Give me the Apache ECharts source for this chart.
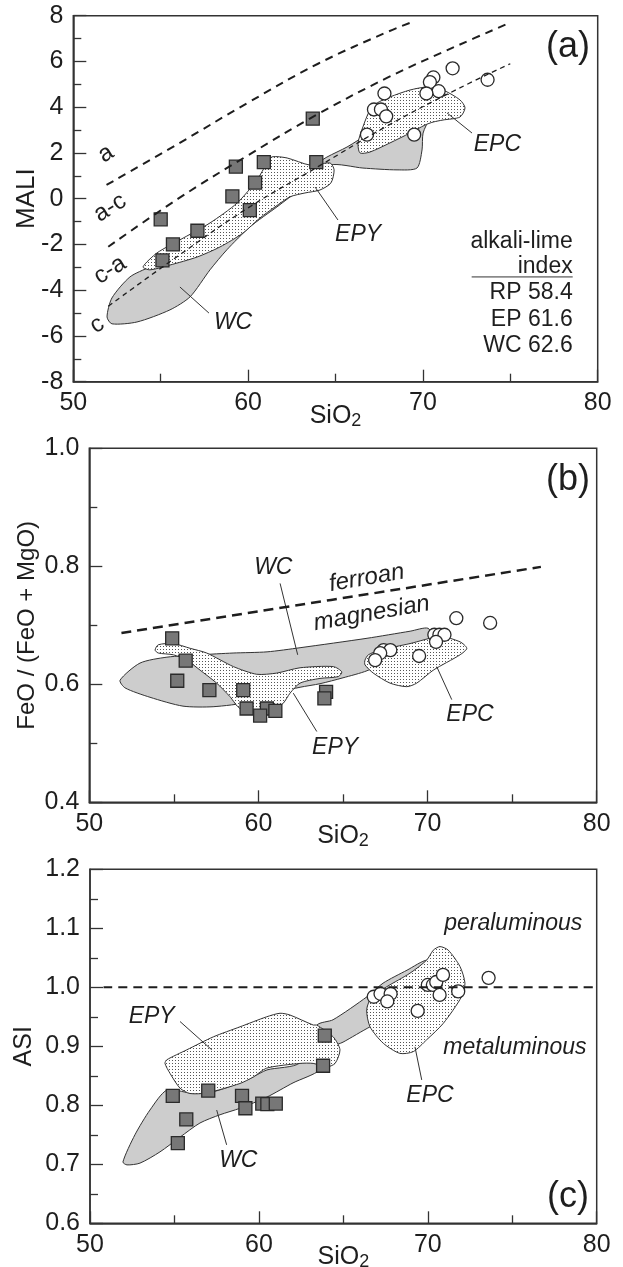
<!DOCTYPE html>
<html>
<head>
<meta charset="utf-8">
<script src="https://cdn.jsdelivr.net/npm/echarts@6/dist/echarts.min.js"></script>
<style>
  html, body { margin: 0; padding: 0; background: #fff; }
  #main { width: 623px; height: 1267px; }
</style>
</head>
<body>
<div id="main"></div>
<script>
// tick labels
var xLabels = [50, 60, 70, 80];
var yLabelsA = [-8, -6, -4, -2, 0, 2, 4, 6, 8];
var yLabelsB = [0.4, 0.6, 0.8, 1.0];
var yLabelsC = [0.6, 0.7, 0.8, 0.9, 1.0, 1.1, 1.2];

// (a) MALI vs SiO2
var sqA_x = [55.0, 55.1, 55.7, 57.1, 59.1, 59.3, 60.1, 60.4, 60.9, 63.7, 63.9];
var sqA_y = [-0.9, -2.7, -2.0, -1.4, 0.1, 1.4, -0.5, 0.7, 1.6, 3.5, 1.6];
var ciA_x = [71.7, 73.7, 70.6, 70.4, 70.9, 70.2, 67.8, 67.2, 67.6, 67.9, 66.8, 69.5];
var ciA_y = [5.7, 5.2, 5.3, 5.1, 4.7, 4.6, 4.6, 3.9, 3.9, 3.6, 2.8, 2.8];
var bound_a = [[51.9, 0.6], [56, 2.4], [60, 4.2], [64, 5.9], [68, 7.3], [69.3, 7.7]];
var bound_ac = [[52, -2.1], [56, 0.0], [60, 1.9], [64, 3.7], [68, 5.3], [72, 6.7], [75, 7.7]];
var bound_ca = [[52, -4.7], [56, -2.5], [60, -0.4], [64, 1.4], [68, 3.2], [72, 4.8], [75, 5.9]];
var wcA = [[51.93,-5.17],[52.21,-5.47],[53.64,-5.39],[55.53,-4.86],[56.68,-4.29],[57.82,-3.11],[58.79,-2.23],[60.11,-1.23],[61.65,-0.36],[62.97,0.38],[63.94,0.69],[64.69,1.47],[66.57,1.34],[68.52,1.26],[69.66,1.34],[69.95,2.13],[70.01,2.87],[70.41,3.57],[70.75,4.32],[70.41,4.32],[68.52,3.44],[66.97,2.87],[65.66,2.26],[64.51,1.82],[63.14,1.17],[61.25,0.38],[59.54,-0.49],[57.82,-1.58],[55.82,-2.46],[54.39,-2.98],[53.24,-3.42],[52.21,-4.34]];
var epyA = [[53.99,-2.98],[54.79,-2.37],[56.1,-1.8],[57.82,-1.06],[59.37,-0.19],[60.51,0.82],[61.08,1.56],[61.37,1.83],[62.23,1.78],[63.54,1.47],[64.69,1.56],[64.92,1.26],[64.74,0.69],[64.11,0.38],[63.25,0.25],[62.39,0.08],[61.54,-0.36],[60.68,-0.84],[59.71,-1.5],[58.39,-2.11],[57.08,-2.55],[55.53,-2.9],[54.39,-3.11]];
var epcA = [[66.4,2.0],[66.29,2.44],[66.57,3.14],[66.97,3.88],[67.37,4.18],[68.12,4.45],[69.26,4.75],[70.23,4.88],[71.15,4.75],[72.12,4.32],[72.41,3.97],[72.12,3.57],[71.15,3.44],[70.58,3.35],[70.12,3.22],[69.26,2.87],[68.12,2.44],[66.97,2.04]];
var alkaliGroup = ['RP', 'EP', 'WC'];
var alkaliIndex = [58.4, 61.6, 62.6];

// (b) FeO/(FeO+MgO) vs SiO2
var sqB_x = [54.9, 55.7, 55.2, 57.1, 59.1, 59.3, 60.5, 61.0, 60.1, 64.0, 63.9];
var sqB_y = [0.678, 0.640, 0.606, 0.590, 0.590, 0.559, 0.559, 0.555, 0.547, 0.587, 0.576];
var ciB_x = [71.7, 73.7, 70.4, 70.7, 71.0, 70.5, 67.4, 67.8, 67.2, 66.9, 69.5];
var ciB_y = [0.712, 0.704, 0.684, 0.684, 0.684, 0.672, 0.658, 0.658, 0.653, 0.641, 0.648];
var bound_fe = [[51.9, 0.687], [76.7, 0.799]];
var wcB = [[51.82,0.607],[53.0,0.636],[54.59,0.646],[56.55,0.65],[58.5,0.653],[60.51,0.655],[62.46,0.662],[66.42,0.678],[68.97,0.69],[70.03,0.695],[70.27,0.675],[68.37,0.65],[66.42,0.623],[65.0,0.611],[63.64,0.601],[62.46,0.595],[61.28,0.587],[59.5,0.57],[57.32,0.562],[55.54,0.563],[53.59,0.578],[52.11,0.594]];
var epyB = [[53.89,0.658],[54.08,0.667],[54.97,0.669],[55.96,0.661],[56.94,0.653],[58.52,0.63],[59.9,0.617],[61.08,0.619],[62.46,0.628],[64.43,0.63],[64.93,0.621],[64.72,0.613],[63.64,0.61],[62.46,0.602],[61.87,0.585],[61.47,0.568],[61.08,0.562],[59.9,0.556],[58.91,0.559],[58.32,0.579],[57.53,0.602],[56.55,0.624],[55.76,0.641],[54.97,0.65],[54.08,0.653]];
var epcB = [[66.3,0.641],[66.5,0.65],[67.19,0.658],[68.96,0.669],[70.74,0.681],[71.92,0.672],[72.32,0.661],[71.92,0.65],[70.34,0.624],[69.36,0.602],[68.77,0.596],[67.78,0.602],[66.79,0.619],[66.3,0.633]];

// (c) ASI vs SiO2
var sqC_x = [54.9, 55.7, 55.2, 57.0, 59.0, 59.2, 60.2, 60.5, 61.0, 63.9, 63.8];
var sqC_y = [0.816, 0.776, 0.736, 0.825, 0.816, 0.795, 0.803, 0.802, 0.803, 0.918, 0.867];
var ciC_x = [66.8, 67.2, 67.8, 67.6, 69.4, 70.0, 70.3, 70.5, 70.9, 70.7, 71.8, 73.6];
var ciC_y = [0.984, 0.989, 0.989, 0.976, 0.960, 1.004, 1.004, 1.009, 1.021, 0.987, 0.993, 1.016];
var bound_asi = [[50.8, 1.0], [80, 1.0]];
var wcC = [[51.95,0.704],[52.19,0.699],[52.96,0.702],[54.14,0.721],[55.33,0.746],[56.51,0.77],[57.7,0.784],[58.88,0.795],[60.48,0.814],[62.02,0.838],[63.62,0.86],[64.39,0.899],[64.98,0.907],[66.58,0.933],[68.06,0.953],[69.54,0.978],[70.13,1.029],[69.95,1.046],[68.77,1.029],[67.35,1.007],[66.4,0.984],[64.39,0.945],[63.44,0.936],[62.43,0.872],[60.48,0.86],[59.65,0.848],[58.88,0.838],[57.28,0.823],[55.92,0.821],[54.56,0.826],[53.55,0.792],[52.66,0.75]];
var epyC = [[54.44,0.871],[54.54,0.877],[55.73,0.894],[57.3,0.916],[58.88,0.933],[60.46,0.95],[61.25,0.956],[61.84,0.953],[63.22,0.936],[63.42,0.936],[64.4,0.916],[64.8,0.894],[64.51,0.871],[64.01,0.865],[63.22,0.871],[62.43,0.871],[60.46,0.863],[59.67,0.848],[58.88,0.837],[56.91,0.821],[55.92,0.82],[55.33,0.829],[54.74,0.854]];
var epcC = [[70.72,1.069],[71.21,1.063],[71.91,1.035],[72.2,1.007],[72.0,0.984],[70.92,0.939],[69.93,0.911],[69.14,0.891],[68.35,0.888],[67.37,0.905],[66.58,0.933],[66.38,0.962],[66.68,0.984],[67.57,1.001],[68.95,1.024],[69.93,1.046],[70.33,1.063]];

var FONT = 'Liberation Sans, Arial, sans-serif';
var INK = '#1e1e1e';

// dotted fill
var dotCanvas = document.createElement('canvas');
dotCanvas.width = 3; dotCanvas.height = 3;
var dctx = dotCanvas.getContext('2d');
dctx.fillStyle = '#fff'; dctx.fillRect(0, 0, 3, 3);
dctx.fillStyle = '#555'; dctx.fillRect(1, 1, 1, 1);
var dotFill = { image: dotCanvas, repeat: 'repeat' };
var grayFill = '#cdcdcd';

function pairs(xs, ys) {
  return xs.map(function (x, i) { return [x, ys[i]]; });
}

function field(g, pts, fill) {
  return {
    type: 'custom', xAxisIndex: g, yAxisIndex: g, silent: true,
    data: [pts[0]],
    renderItem: function (params, api) {
      return {
        type: 'polygon',
        shape: { points: pts.map(function (p) { return api.coord(p); }), smooth: 0.25 },
        style: { fill: fill, stroke: '#333', lineWidth: 1 }
      };
    }
  };
}

function segs(g, list) {
  return {
    type: 'custom', xAxisIndex: g, yAxisIndex: g, silent: true,
    data: list.map(function (s) { return s[0]; }),
    renderItem: function (params, api) {
      var s = list[params.dataIndex];
      var a = api.coord(s[0]), b = api.coord(s[1]);
      return { type: 'line', shape: { x1: a[0], y1: a[1], x2: b[0], y2: b[1] },
        style: { stroke: '#333', lineWidth: 1 } };
    }
  };
}

// notes: [text, x, y, rotationDeg, italic, fontSize, align]
function notes(g, list) {
  return {
    type: 'custom', xAxisIndex: g, yAxisIndex: g, silent: true,
    data: list.map(function (n) { return [n[1], n[2]]; }),
    renderItem: function (params, api) {
      var n = list[params.dataIndex];
      var p = api.coord([n[1], n[2]]);
      return {
        type: 'text', x: p[0], y: p[1], rotation: (n[3] || 0) * Math.PI / 180,
        style: {
          text: n[0], fill: INK, fontFamily: FONT,
          fontSize: n[5] || 23, fontStyle: n[4] ? 'italic' : 'normal',
          align: n[6] || 'center', verticalAlign: 'middle'
        }
      };
    }
  };
}

function dashed(g, pts, dash, w) {
  return {
    type: 'line', xAxisIndex: g, yAxisIndex: g, data: pts, symbol: 'none',
    smooth: 0.4, silent: true,
    lineStyle: { color: INK, width: w, type: dash }
  };
}

function dots(g, pts, shape, color) {
  return {
    type: 'scatter', xAxisIndex: g, yAxisIndex: g, data: pts,
    symbol: shape, symbolSize: 13,
    itemStyle: { color: color, borderColor: '#2a2a2a', borderWidth: 1.3, opacity: 1 }
  };
}

function labelIn(list) {
  return function (v) {
    for (var i = 0; i < list.length; i++) {
      if (Math.abs(list[i] - v) < 1e-6) return list[i] < 1.5 && list[i] > 0 ? list[i].toFixed(1) : String(list[i]);
    }
    return '';
  };
}

var tickLine = { color: '#333', width: 1.3 };

function xAxis(g, gap) {
  return {
    gridIndex: g, type: 'value', min: 50, max: 80, interval: 10,
    axisLine: { show: true, onZero: false, lineStyle: { color: '#333', width: 1.5 } },
    axisTick: { show: true, inside: true, length: 12, lineStyle: tickLine },
    minorTick: { show: true, splitNumber: 2, length: 8, lineStyle: tickLine },
    axisLabel: { formatter: labelIn(xLabels), fontSize: 25, color: INK, fontFamily: FONT, margin: 9 },
    splitLine: { show: false },
    name: 'SiO{s|2}', nameLocation: 'middle', nameGap: gap, nameMoveOverlap: false,
    nameTextStyle: { fontSize: 25, color: INK, fontFamily: FONT,
      rich: { s: { fontSize: 18, color: INK, fontFamily: FONT, padding: [10, 0, 0, 0] } } }
  };
}

function yAxis(g, min, max, step, labels, name, size, gap) {
  return {
    gridIndex: g, type: 'value', min: min, max: max, interval: step,
    axisLine: { show: true, onZero: false, lineStyle: { color: '#333', width: 1.5 } },
    axisTick: { show: true, inside: true, length: 13, lineStyle: tickLine },
    minorTick: { show: true, splitNumber: 2, length: 8, lineStyle: tickLine },
    axisLabel: { formatter: labelIn(labels), fontSize: 25, color: INK, fontFamily: FONT, margin: 10 },
    splitLine: { show: false },
    name: name, nameLocation: 'middle', nameGap: gap, nameRotate: 90, nameMoveOverlap: false,
    nameTextStyle: { fontSize: size, color: INK, fontFamily: FONT }
  };
}

var gridStyle = { show: true, borderColor: '#333', borderWidth: 1.5, backgroundColor: 'transparent',
  containLabel: false, outerBoundsMode: 'none' };

var alkaliNotes = alkaliGroup.map(function (grp, i) {
  return [grp + ' ' + alkaliIndex[i].toFixed(1), 78.57, -4.12 - i * 1.16, 0, false, 23, 'right'];
});

var chart = echarts.init(document.getElementById('main'), null, { renderer: 'canvas' });
chart.setOption({
  animation: false,
  backgroundColor: '#fff',
  grid: [
    Object.assign({ left: 73.3, top: 15.7, width: 524.4, height: 366 }, gridStyle),
    Object.assign({ left: 89.3, top: 448.3, width: 507.4, height: 354 }, gridStyle),
    Object.assign({ left: 90, top: 869.3, width: 506.7, height: 354 }, gridStyle)
  ],
  xAxis: [xAxis(0, 20), xAxis(1, 20), xAxis(2, 20)],
  yAxis: [
    yAxis(0, -8, 8, 2, yLabelsA, 'MALI', 26, 33),
    yAxis(1, 0.4, 1.0, 0.2, yLabelsB, 'FeO / (FeO + MgO)', 24, 50),
    yAxis(2, 0.6, 1.2, 0.1, yLabelsC, 'ASI', 25, 53)
  ],
  series: [
    // (a)
    field(0, wcA, grayFill),
    field(0, epyA, dotFill),
    field(0, epcA, dotFill),
    dashed(0, bound_a, [8, 6], 2),
    dashed(0, bound_ac, [8, 6], 2),
    dashed(0, bound_ca, [5, 4], 1.3),
    segs(0, [[[57.76, -5.0], [56.1, -3.86]], [[65.14, -0.93], [63.83, 0.51]],
             [[72.81, 2.87], [71.38, 3.75]], [[72.79, -3.42], [78.57, -3.42]]]),
    dots(0, pairs(sqA_x, sqA_y), 'rect', '#777'),
    dots(0, pairs(ciA_x, ciA_y), 'circle', '#fff'),
    notes(0, [
      ['a', 51.87, 1.96, 32, false, 24], ['a-c', 52.1, -0.4, 32, false, 24],
      ['c-a', 52.1, -3.12, 32, false, 24], ['c', 51.36, -5.52, 32, false, 24],
      ['WC', 59.14, -5.43, 0, true], ['EPY', 66.29, -1.59, 0, true], ['EPC', 74.26, 2.35, 0, true],
      ['(a)', 78.3, 6.63, 0, false, 36],
      ['alkali-lime', 78.57, -1.89, 0, false, 23, 'right'], ['index', 78.57, -2.98, 0, false, 23, 'right']
    ].concat(alkaliNotes)),
    // (b)
    field(1, wcB, grayFill),
    field(1, epyB, dotFill),
    field(1, epcB, dotFill),
    dashed(1, bound_fe, [10, 6], 2.5),
    segs(1, [[[61.28, 0.771], [62.32, 0.650]], [[63.45, 0.520], [62.06, 0.585]], [[71.43, 0.574], [70.54, 0.630]]]),
    dots(1, pairs(sqB_x, sqB_y), 'rect', '#777'),
    dots(1, pairs(ciB_x, ciB_y), 'circle', '#fff'),
    notes(1, [
      ['WC', 60.88, 0.797, 0, true], ['EPY', 64.53, 0.492, 0, true], ['EPC', 72.51, 0.548, 0, true],
      ['ferroan', 66.4, 0.780, 10, true, 24], ['magnesian', 66.7, 0.720, 10, true, 24],
      ['(b)', 78.3, 0.946, 0, false, 36]
    ]),
    // (c)
    field(2, wcC, grayFill),
    field(2, epyC, dotFill),
    field(2, epcC, dotFill),
    dashed(2, bound_asi, [9, 6], 2),
    segs(2, [[[55.33, 0.942], [57.21, 0.894]], [[58.09, 0.733], [57.5, 0.792]], [[69.64, 0.843], [69.24, 0.899]]]),
    dots(2, pairs(sqC_x, sqC_y), 'rect', '#777'),
    dots(2, pairs(ciC_x, ciC_y), 'circle', '#fff'),
    notes(2, [
      ['EPY', 53.65, 0.950, 0, true], ['WC', 58.78, 0.707, 0, true], ['EPC', 70.13, 0.817, 0, true],
      ['peraluminous', 75.06, 1.108, 0, true], ['metaluminous', 75.16, 0.897, 0, true],
      ['(c)', 78.3, 0.645, 0, false, 36]
    ])
  ]
});
</script>
</body>
</html>
